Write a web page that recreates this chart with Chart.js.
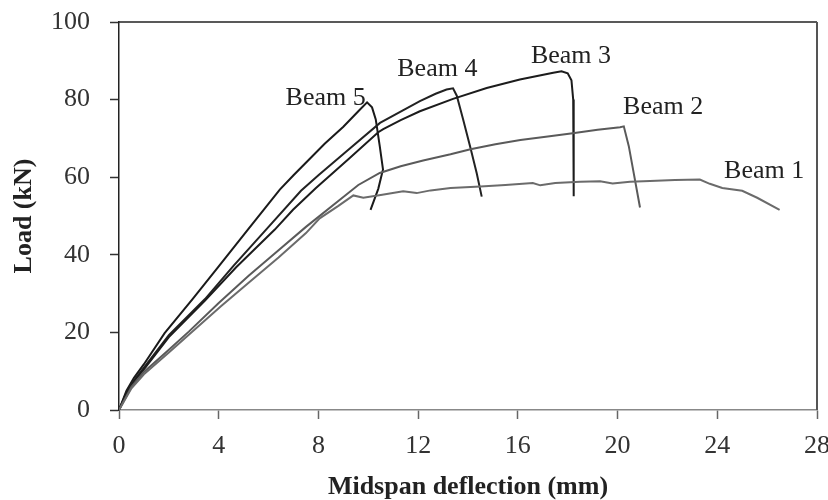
<!DOCTYPE html>
<html>
<head>
<meta charset="utf-8">
<script src="https://cdn.jsdelivr.net/npm/chart.js@4/dist/chart.umd.min.js"></script>
<style>
  html, body { margin: 0; padding: 0; background: #ffffff; }
  #wrap { width: 828px; height: 500px; position: relative; }
</style>
</head>
<body>
<div id="wrap"><canvas id="c" width="828" height="500"></canvas></div>
<script>
// ---- Data (midspan deflection in mm, load in kN) ----
const beam1X = [0, 0.5, 1, 2, 2.8, 4.1, 5.2, 6.4, 7.5, 8.05, 8.8, 9.4, 9.8, 10.5, 11.4, 11.94, 12.5, 13.3, 14.5, 15.5, 16.6, 16.9, 17.5, 18.5, 19.3, 19.8, 20.5, 21.3, 22.3, 23.3, 23.7, 24.2, 25.0, 25.6, 26.5];
const beam1Y = [0, 5.6, 9.2, 14.8, 19.4, 26.8, 32.8, 39.3, 45.6, 49.4, 52.6, 55.3, 54.7, 55.4, 56.4, 55.9, 56.6, 57.2, 57.6, 58.0, 58.5, 57.9, 58.5, 58.8, 58.95, 58.4, 58.8, 59.0, 59.3, 59.4, 58.3, 57.2, 56.5, 54.7, 51.6];

const beam2X = [0, 0.5, 1, 2, 2.8, 4.0, 5.2, 6.4, 7.5, 8.86, 9.6, 10.46, 11.3, 12.2, 13.3, 14.1, 15.1, 16.1, 17.2, 18.2, 19.2, 20.1, 20.25, 20.45, 20.65, 20.9];
const beam2Y = [0, 6.0, 9.8, 15.5, 20.2, 27.6, 34.6, 41.2, 47.2, 54.2, 58.0, 61.1, 62.8, 64.3, 65.9, 67.2, 68.5, 69.6, 70.5, 71.3, 72.2, 72.9, 73.1, 68, 61, 52.2];

const beam3X = [0, 0.3, 0.6, 1, 2, 3.45, 4.7, 6.25, 6.98, 7.9, 9.2, 10.4, 10.6, 11.3, 12.07, 13.4, 14.75, 16.08, 17.42, 17.75, 18.0, 18.15, 18.22, 18.25, 18.25, 18.22];
const beam3Y = [0, 4.3, 7.3, 10.5, 18.8, 28.2, 36.8, 46.5, 51.6, 57.2, 64.6, 71.6, 72.4, 74.7, 77.0, 80.2, 83.0, 85.2, 86.9, 87.3, 86.8, 85.0, 80.0, 70.0, 62.0, 55.1];

const beam4X = [0, 0.3, 0.6, 1, 2, 3.45, 4.6, 5.9, 7.3, 8.0, 9.0, 10.47, 11.5, 12.07, 12.7, 13.14, 13.4, 13.55, 13.8, 14.1, 14.35, 14.55];
const beam4Y = [0, 4.5, 7.6, 10.9, 19.3, 28.6, 37.2, 46.5, 56.5, 60.5, 66.0, 74.0, 77.6, 79.6, 81.5, 82.6, 82.9, 81.0, 75.0, 67.5, 61.0, 55.0];

const beam5X = [0, 0.3, 0.6, 1, 1.83, 2.95, 4.0, 5.17, 6.45, 7.0, 8.25, 9.0, 9.6, 9.95, 10.15, 10.3, 10.46, 10.59, 10.4, 10.09];
const beam5Y = [0, 5.0, 8.3, 11.8, 19.8, 28.6, 37.0, 46.5, 56.8, 60.5, 68.6, 73.0, 77.0, 79.3, 78.0, 74.9, 68.0, 62.0, 57.0, 51.6];

const beamNames = ["Beam 1", "Beam 2", "Beam 3", "Beam 4", "Beam 5"];
// label anchor positions in data units (deflection, load)
const labelX = [25.88, 21.83, 18.13, 12.77, 8.29];
const labelY = [61.5, 78.0, 91.1, 87.8, 80.3];

const xTicks = [0, 4, 8, 12, 16, 20, 24, 28];
const yTicks = [0, 20, 40, 60, 80, 100];

// ---- Build datasets ----
function pts(xs, ys) { return xs.map((x, i) => ({ x: x, y: ys[i] })); }
const seriesX = [beam1X, beam2X, beam3X, beam4X, beam5X];
const seriesY = [beam1Y, beam2Y, beam3Y, beam4Y, beam5Y];
const colors = ["#6b6b6b", "#5a5a5a", "#1c1c1c", "#222222", "#1a1a1a"];

const SERIF = "'Liberation Serif', 'Times New Roman', serif";

const frame = {
  id: 'frame',
  afterDraw(chart) {
    const { ctx, chartArea: a } = chart;
    ctx.save();
    ctx.strokeStyle = '#222';
    ctx.lineWidth = 1.5;
    ctx.beginPath();
    ctx.moveTo(a.left, a.top);
    ctx.lineTo(a.right, a.top);
    ctx.stroke();
    ctx.strokeStyle = '#555';
    ctx.lineWidth = 2;
    ctx.beginPath();
    ctx.moveTo(a.right, a.top);
    ctx.lineTo(a.right, a.bottom);
    ctx.stroke();
    // beam labels
    const xs = chart.scales.x, ys = chart.scales.y;
    ctx.fillStyle = '#222';
    ctx.font = '26px ' + SERIF;
    ctx.textAlign = 'center';
    ctx.textBaseline = 'middle';
    beamNames.forEach((n, i) => {
      ctx.fillText(n, xs.getPixelForValue(labelX[i]), ys.getPixelForValue(labelY[i]));
    });
    ctx.restore();
  }
};

new Chart(document.getElementById('c'), {
  type: 'scatter',
  data: {
    datasets: beamNames.map((n, i) => ({
      label: n,
      data: pts(seriesX[i], seriesY[i]),
      showLine: true,
      borderColor: colors[i],
      borderWidth: 2,
      pointRadius: 0,
      tension: 0,
      fill: false
    }))
  },
  options: {
    responsive: false,
    animation: false,
    events: [],
    layout: { padding: { left: 0, right: 11, top: 22, bottom: 0 } },
    plugins: { legend: { display: false }, tooltip: { enabled: false } },
    scales: {
      x: {
        type: 'linear',
        min: 0, max: 28,
        afterBuildTicks(s) { s.ticks = xTicks.map(v => ({ value: v })); },
        afterFit(s) { s.height = 90; s.paddingLeft = 0; s.paddingRight = 0; },
        ticks: {
          font: { family: SERIF, size: 26 },
          color: '#333',
          padding: 12,
          maxRotation: 0,
          autoSkip: false
        },
        grid: { drawOnChartArea: false, tickLength: 9, color: '#666', tickWidth: 1.5 },
        border: { color: '#888', width: 1.5 },
        title: {
          display: true,
          text: 'Midspan deflection (mm)',
          font: { family: SERIF, size: 26, weight: 'bold', lineHeight: 1 },
          color: '#222',
          padding: { top: 0, bottom: 0 }
        }
      },
      y: {
        type: 'linear',
        min: 0, max: 100,
        afterBuildTicks(s) { s.ticks = yTicks.map(v => ({ value: v })); },
        afterFit(s) { s.width = 119; s.paddingTop = 0; s.paddingBottom = 0; },
        ticks: {
          font: { family: SERIF, size: 26 },
          color: '#333',
          padding: 20,
          autoSkip: false
        },
        grid: { drawOnChartArea: false, tickLength: 9, color: '#333', tickWidth: 1.5 },
        border: { color: '#222', width: 1.5 },
        title: {
          display: true,
          text: 'Load (kN)',
          font: { family: SERIF, size: 26, weight: 'bold', lineHeight: 1 },
          color: '#222',
          padding: { top: 11, bottom: 0 }
        }
      }
    }
  },
  plugins: [frame]
});
</script>
</body>
</html>
